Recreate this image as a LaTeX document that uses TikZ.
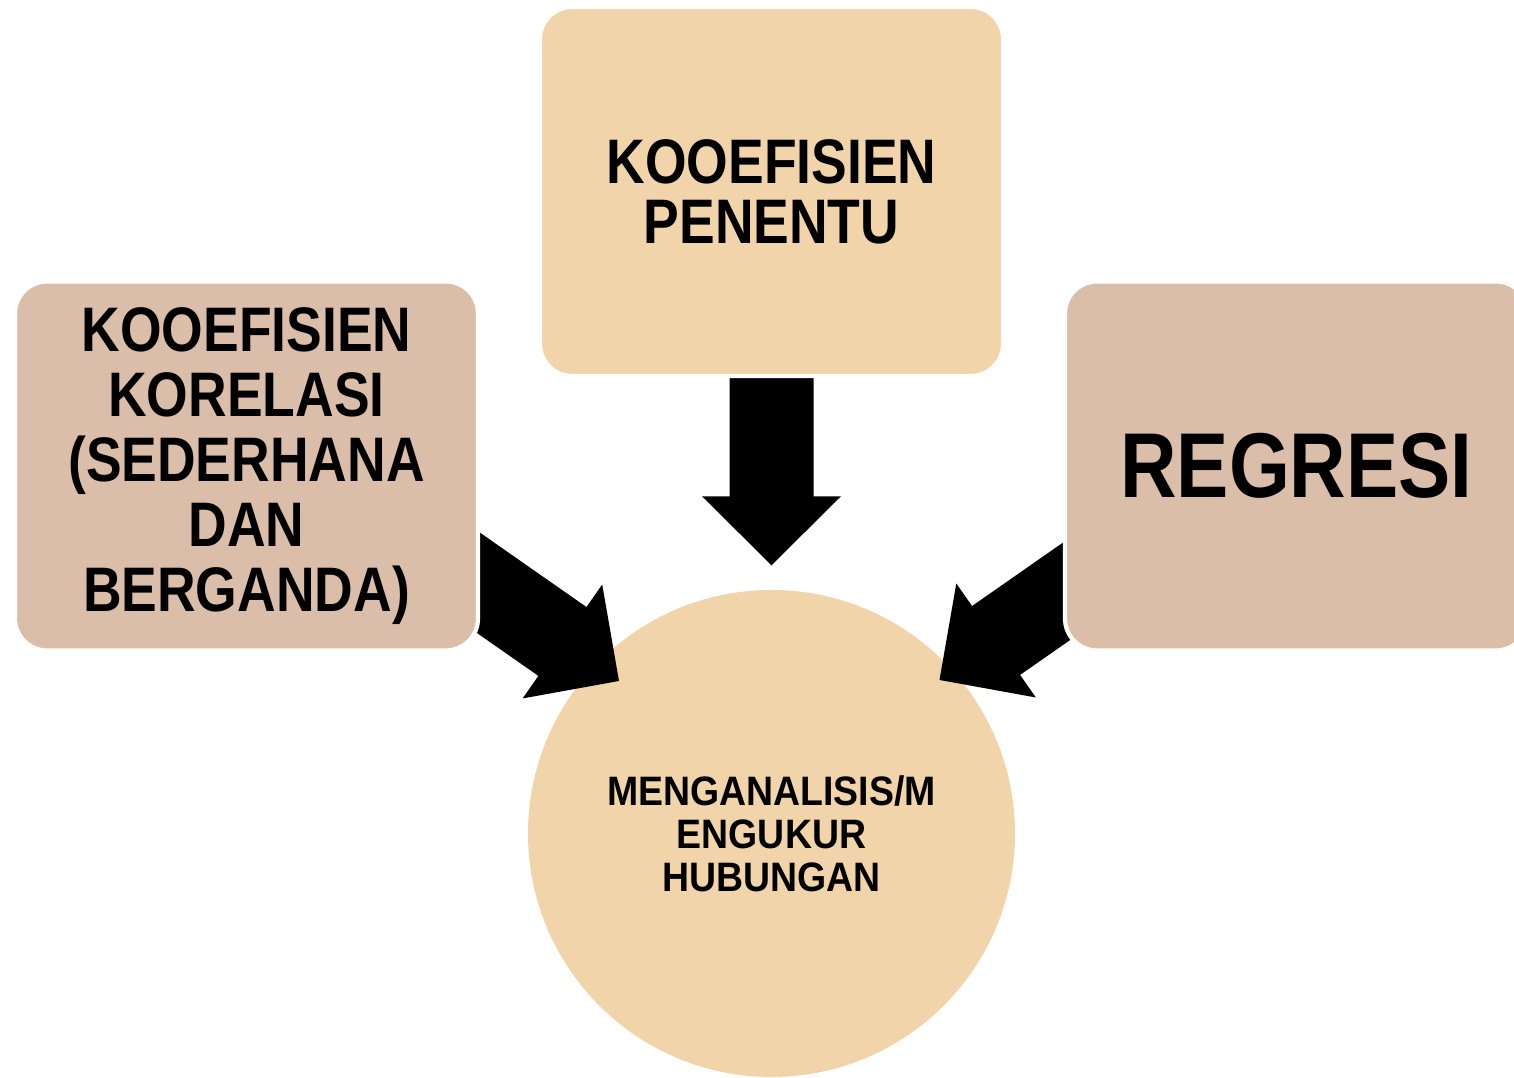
\documentclass[tikz,border=0pt]{standalone}
\usepackage{fontspec}
\setmainfont{Liberation Sans}[FakeStretch=0.85]
\newfontfamily\hurufbulat{Liberation Sans}[FakeStretch=0.91]
\usetikzlibrary{calc}

\definecolor{krem}{HTML}{F1D4A9}
\definecolor{coklatmuda}{HTML}{DBBEA9}

\pgfdeclarelayer{latar}
\pgfdeclarelayer{lapisanpanah}
\pgfsetlayers{latar,lapisanpanah,main}

\tikzset{
  kotak/.style={rounded corners=0.32cm, draw=white, line width=1.2pt, outer sep=0pt,
    minimum width=4.63cm, minimum height=3.69cm, align=center, inner sep=0pt},
  lingkaran/.style={circle, fill=krem, minimum size=4.87cm, align=center, inner sep=0pt},
  panah/.style={fill=black},
}

% panah blok: #1 ekor, #2 ujung
\newcommand{\panahblok}[2]{%
  \fill[panah] let \p1=($(#2)-(#1)$), \n1={atan2(\y1,\x1)}, \n2={veclen(\x1,\y1)} in
    [shift={(#2)}, rotate=\n1]
    (0,0) -- (-0.69,0.695) -- (-0.69,0.42) -- ({-\n2},0.42cm) -- ({-\n2},-0.42cm)
    -- (-0.69,-0.42) -- (-0.69,-0.695) -- cycle;}

\begin{document}
\begin{tikzpicture}
  \useasboundingbox (0,0) rectangle (15.14,10.78);

  \node[kotak, fill=krem, font=\bfseries\fontsize{17.9}{17.1}\selectfont] (kp) at (7.715,8.865)
    {KOOEFISIEN\\PENENTU};
  \node[kotak, fill=coklatmuda, font=\bfseries\fontsize{17.9}{18.5}\selectfont] (kk) at (2.465,6.12)
    {KOOEFISIEN\\KORELASI\\(SEDERHANA\\DAN\\BERGANDA)};
  \node[kotak, fill=coklatmuda, font=\bfseries\fontsize{26.2}{28}\selectfont] (rg) at (12.965,6.12)
    {REGRESI};
  \begin{pgfonlayer}{latar}
    \node[lingkaran, font=\hurufbulat\bfseries\fontsize{11.7}{12.2}\selectfont] (hub) at (7.715,2.445)
      {MENGANALISIS/M\\ENGUKUR\\HUBUNGAN};
  \end{pgfonlayer}

  \coordinate (ekor-kiri) at ($(kk.east)+(-0.38,-0.9)$);
  \coordinate (ekor-kanan) at ($(rg.west)+(0.35,-1.02)$);
  \coordinate (ujung-atas) at ($(hub.north)+(0,0.24)$);
  \coordinate (ujung-kiri) at ($(hub.center)+(-1.525,1.525)$);
  \coordinate (ujung-kanan) at ($(hub.center)+(1.68,1.535)$);

  \begin{pgfonlayer}{lapisanpanah}
    \panahblok{kp.center}{ujung-atas}
    \panahblok{ekor-kiri}{ujung-kiri}
    \panahblok{ekor-kanan}{ujung-kanan}
  \end{pgfonlayer}
\end{tikzpicture}
\end{document}
